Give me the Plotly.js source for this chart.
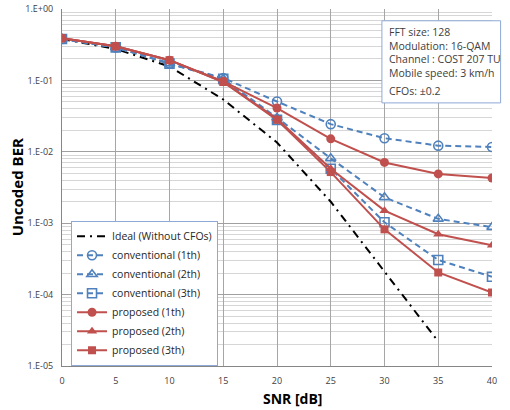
<!DOCTYPE html>
<html>
<head>
<meta charset="utf-8">
<script src="https://cdn.plot.ly/plotly-3.0.1.min.js"></script>
<style>html,body{margin:0;padding:0;background:#fff;}#chart{width:510px;height:410px;}</style>
</head>
<body>
<div id="chart"></div>
<script>
const snr = [0, 5, 10, 15, 20, 25, 30, 35, 40];
const snrIdeal = [0, 5, 10, 15, 20, 25, 30, 35];
const ideal = [0.38, 0.275, 0.157, 0.054, 0.0135, 0.0020, 0.00021, 0.000022];
const conv1 = [0.38, 0.29, 0.172, 0.108, 0.0506, 0.0244, 0.0155, 0.0122, 0.0117];
const conv2 = [0.38, 0.29, 0.172, 0.105, 0.030, 0.0081, 0.0023, 0.00115, 0.00088];
const conv3 = [0.38, 0.29, 0.172, 0.105, 0.028, 0.0058, 0.00103, 0.000305, 0.000178];
const prop1 = [0.39, 0.30, 0.192, 0.097, 0.041, 0.0152, 0.0071, 0.0049, 0.0043];
const prop2 = [0.39, 0.30, 0.192, 0.095, 0.029, 0.0058, 0.0015, 0.00070, 0.00049];
const prop3 = [0.39, 0.30, 0.192, 0.095, 0.028, 0.0052, 0.00082, 0.000204, 0.000107];
const names = ['Ideal (Without CFOs)', 'conventional (1th)', 'conventional (2th)', 'conventional (3th)',
               'proposed (1th)', 'proposed (2th)', 'proposed (3th)'];
const yTickVals = [1, 0.1, 0.01, 0.001, 0.0001, 0.00001];
const yTickText = ['1.E+00', '1.E-01', '1.E-02', '1.E-03', '1.E-04', '1.E-05'];
const infoLines = ['FFT size: 128', 'Modulation: 16-QAM', 'Channel : COST 207 TU', 'Mobile speed: 3 km/h', 'CFOs: \u00b10.2'];
const infoY = [0.9364, 0.8972, 0.8591, 0.8199, 0.7703];

const BLUE = '#4f81bd', RED = '#c0504d';
const F = '"Open Sans", "Noto Sans", sans-serif';

function conv(y, sym, name) {
  return {x: snr, y: y, name: name, mode: 'lines+markers', type: 'scatter',
    line: {color: BLUE, width: 2, dash: '6px,4px'},
    marker: {symbol: sym, size: 9, color: BLUE, line: {color: BLUE, width: 1.6}}};
}
function prop(y, sym, name) {
  return {x: snr, y: y, name: name, mode: 'lines+markers', type: 'scatter',
    line: {color: RED, width: 2},
    marker: {symbol: sym, size: sym === 'square' ? 8 : 9, color: RED}};
}

const traces = [
  {x: snrIdeal, y: ideal, name: names[0], mode: 'lines', type: 'scatter',
   line: {color: '#000', width: 2, dash: '8px,5px,2px,5px'}},
  conv(conv1, 'circle-open', names[1]),
  conv(conv2, 'triangle-up-open', names[2]),
  conv(conv3, 'square-open', names[3]),
  prop(prop1, 'circle', names[4]),
  prop(prop2, 'triangle-up', names[5]),
  prop(prop3, 'square', names[6])
];

const annotations = infoLines.map((t, i) => ({
  xref: 'paper', yref: 'paper', x: 0.756, y: infoY[i], xanchor: 'left', yanchor: 'middle', align: 'left',
  showarrow: false, text: t, font: {family: F, size: 10.5, color: '#404040'}
}));
annotations.push(
  {xref: 'paper', yref: 'paper', x: 0.537, y: -0.091, xanchor: 'center', yanchor: 'middle',
   showarrow: false, text: '<b>SNR [dB]</b>', font: {family: F, size: 14, color: '#000'}},
  {xref: 'paper', yref: 'paper', x: -0.105, y: 0.5, xanchor: 'center', yanchor: 'middle', textangle: -90,
   showarrow: false, text: '<b>Uncoded BER</b>', font: {family: F, size: 15, color: '#000'}}
);

const layout = {
  width: 510, height: 410,
  margin: {l: 62, r: 18, t: 9, b: 44},
  paper_bgcolor: '#fff', plot_bgcolor: '#fff',
  showlegend: true,
  legend: {x: 0.021, y: 0.407, xanchor: 'left', yanchor: 'top', bgcolor: '#fff',
           bordercolor: '#8ea9d8', borderwidth: 1, font: {family: F, size: 10.5, color: '#262626'},
           tracegroupgap: 0, itemwidth: 30},
  xaxis: {range: [0, 40], dtick: 5, tick0: 0, showgrid: true, gridcolor: '#a6a6a6', gridwidth: 1,
          zeroline: false, showline: true, linecolor: '#868686', linewidth: 1, ticks: '',
          ticklabelstandoff: 6,
          tickfont: {family: F, size: 9, color: '#404040'}, mirror: false},
  yaxis: {type: 'log', range: [-5, 0], tickvals: yTickVals, ticktext: yTickText,
          showgrid: true, gridcolor: '#a0a0a0', gridwidth: 1.3,
          minor: {dtick: 'D1', showgrid: true, gridcolor: '#d6d6d6', gridwidth: 1, ticks: ''},
          zeroline: false, showline: true, linecolor: '#868686', linewidth: 1, ticks: '',
          ticklabelstandoff: 6,
          tickfont: {family: F, size: 9, color: '#404040'}},
  shapes: [
    {type: 'rect', xref: 'paper', yref: 'paper', x0: 0.744, x1: 1.02, y0: 0.737, y1: 0.967,
     line: {color: '#8ea9d8', width: 1}, fillcolor: '#fff', layer: 'above'}
  ],
  annotations: annotations
};

Plotly.newPlot('chart', traces, layout, {staticPlot: true, displayModeBar: false});
</script>
</body>
</html>
